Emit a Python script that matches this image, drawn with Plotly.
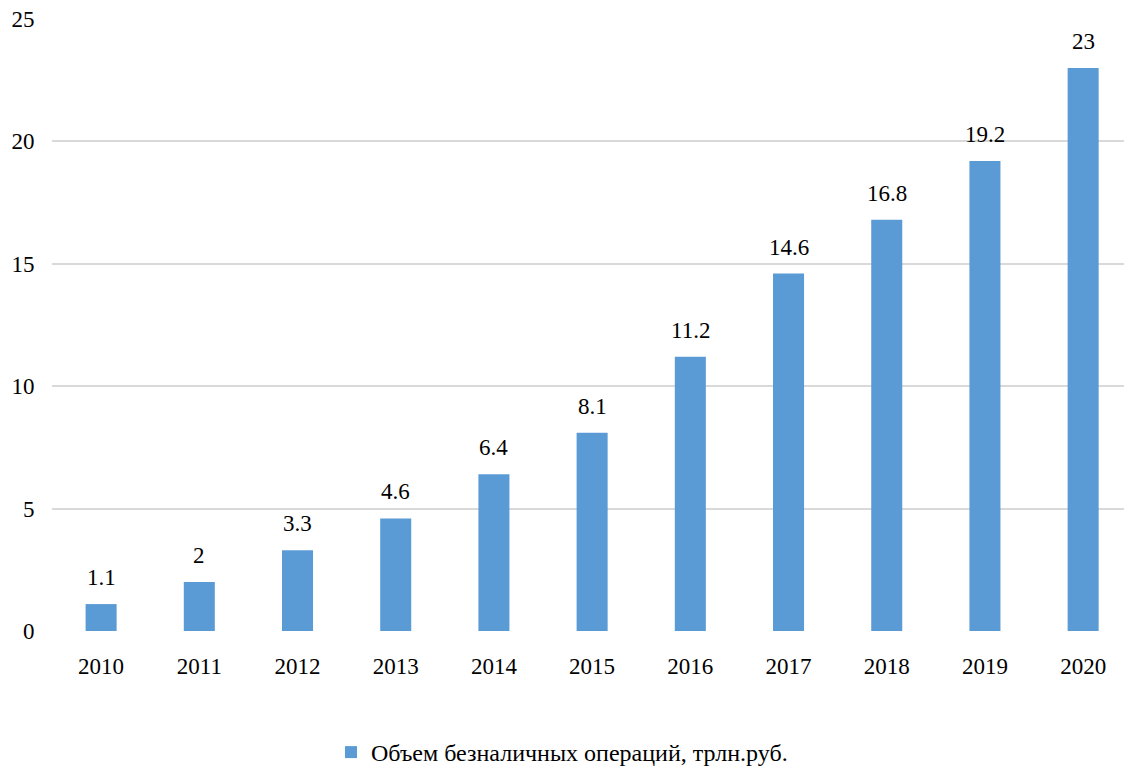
import plotly.graph_objects as go

years = ["2010", "2011", "2012", "2013", "2014", "2015", "2016", "2017", "2018", "2019", "2020"]
volumes = [1.1, 2, 3.3, 4.6, 6.4, 8.1, 11.2, 14.6, 16.8, 19.2, 23]
series_name = "Объем безналичных операций, трлн.руб."
y_ticks = [0, 5, 10, 15, 20, 25]

FONT = "Liberation Serif"
BAR_COLOR = "#5B9BD5"

fig = go.Figure()
fig.add_trace(go.Bar(
    x=list(range(len(years))),
    y=volumes,
    name=series_name,
    marker=dict(color=BAR_COLOR, line=dict(width=0)),
    showlegend=True,
))

# value labels above each bar
for i, v in enumerate(volumes):
    fig.add_annotation(
        x=i, y=v, text=f"{v:g}", showarrow=False,
        yanchor="bottom", yshift=12,
        font=dict(family=FONT, size=23, color="#000000"),
    )

fig.update_layout(
    width=1124, height=775,
    margin=dict(l=52, r=0, t=19, b=144),
    paper_bgcolor="white", plot_bgcolor="white",
    bargap=0.684,
    font=dict(family=FONT, size=23, color="#000000"),
    legend=dict(
        orientation="h", xref="container", yref="container",
        x=0.5, xanchor="center", y=-0.018, yanchor="bottom",
        font=dict(family=FONT, size=24, color="#000000"),
        itemwidth=30,
    ),
    xaxis=dict(
        tickmode="array", tickvals=list(range(len(years))), ticktext=years,
        range=[-0.5, 10.416],
        showgrid=False, zeroline=False, showline=False,
        ticks="outside", ticklen=14, tickcolor="rgba(0,0,0,0)",
        tickfont=dict(family=FONT, size=23, color="#000000"),
    ),
    yaxis=dict(
        range=[0, 25], tickvals=y_ticks,
        showgrid=True, gridcolor="#D9D9D9", gridwidth=2,
        zeroline=False, showline=False,
        ticks="outside", ticklen=12, tickcolor="rgba(0,0,0,0)",
        tickfont=dict(family=FONT, size=23, color="#000000"),
    ),
)

fig.write_html("out.html")
